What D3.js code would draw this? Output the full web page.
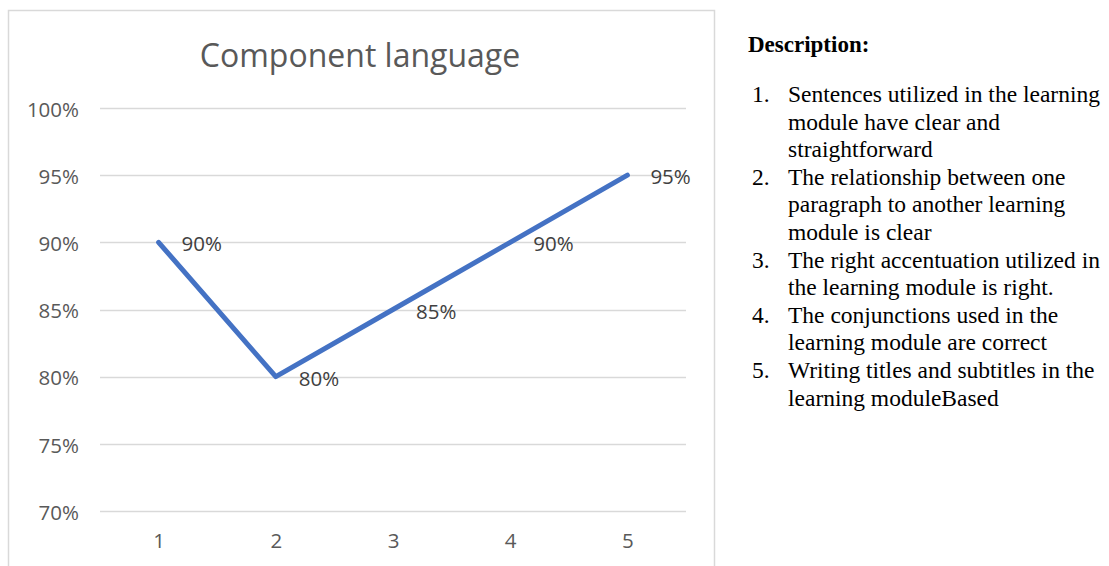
<!DOCTYPE html>
<html>
<head>
<meta charset="utf-8">
<script src="https://cdn.jsdelivr.net/npm/d3@7"></script>
<style>
    body { margin: 0; background: #fff; }
    svg { display: block; }
</style>
</head>
<body>
<div id="chart"></div>
<script>
const categories = ['1', '2', '3', '4', '5'];
const values = [0.90, 0.80, 0.85, 0.90, 0.95];
const yTicks = [0.70, 0.75, 0.80, 0.85, 0.90, 0.95, 1.00];
const chartTitle = 'Component language';
const descTitle = 'Description:';
const descItems = [
    ['Sentences utilized in the learning', 'module have clear and', 'straightforward'],
    ['The relationship between one', 'paragraph to another learning', 'module is clear'],
    ['The right accentuation utilized in', 'the learning module is right.'],
    ['The conjunctions used in the', 'learning module are correct'],
    ['Writing titles and subtitles in the', 'learning moduleBased']
];

document.addEventListener('DOMContentLoaded', function() {
    drawChart();
});

function drawChart() {
    const width = 1109;
    const height = 566;

    const svg = d3.select('#chart')
        .append('svg')
        .attr('width', width)
        .attr('height', height);

    // chart frame (cut off at bottom)
    svg.append('rect')
        .attr('x', 8.5)
        .attr('y', 10.5)
        .attr('width', 706)
        .attr('height', 600)
        .attr('fill', '#fff')
        .attr('stroke', '#d9d9d9')
        .attr('stroke-width', 1.5);

    const x = d3.scalePoint()
        .domain(categories)
        .range([100, 686])
        .padding(0.5);

    const y = d3.scaleLinear()
        .domain([0.70, 1.00])
        .range([511, 108]);

    const font = "'Open Sans', 'Noto Sans', sans-serif";

    svg.append('text')
        .attr('x', 360)
        .attr('y', 67)
        .attr('text-anchor', 'middle')
        .attr('font-family', font)
        .attr('font-size', 32)
        .attr('fill', '#595959')
        .text(chartTitle);

    // gridlines
    svg.append('g')
        .selectAll('line')
        .data(yTicks)
        .enter()
        .append('line')
        .attr('x1', 100)
        .attr('x2', 686)
        .attr('y1', d => Math.round(y(d)) + 0.5)
        .attr('y2', d => Math.round(y(d)) + 0.5)
        .attr('stroke', '#d9d9d9')
        .attr('stroke-width', 1.5);

    const yAxis = svg.append('g')
        .attr('transform', 'translate(100,0)')
        .call(d3.axisLeft(y).tickValues(yTicks).tickFormat(d3.format('.0%')).tickSize(0).tickPadding(21));
    yAxis.select('.domain').remove();
    yAxis.selectAll('text')
        .attr('font-family', font)
        .attr('font-size', 20.5)
        .attr('dy', '0.4em')
        .attr('fill', '#595959');

    const xAxis = svg.append('g')
        .attr('transform', 'translate(0,511)')
        .call(d3.axisBottom(x).tickSize(0).tickPadding(22));
    xAxis.select('.domain').remove();
    xAxis.selectAll('text')
        .attr('font-family', font)
        .attr('font-size', 20.5)
        .attr('fill', '#595959');

    const line = d3.line()
        .x((d, i) => x(categories[i]))
        .y(d => y(d));

    svg.append('path')
        .datum(values)
        .attr('d', line)
        .attr('fill', 'none')
        .attr('stroke', '#4472c4')
        .attr('stroke-width', 5)
        .attr('stroke-linejoin', 'round')
        .attr('stroke-linecap', 'round');

    svg.selectAll('text.dlabel')
        .data(values)
        .enter()
        .append('text')
        .attr('class', 'dlabel')
        .attr('x', (d, i) => x(categories[i]) + 23)
        .attr('y', d => y(d) + 9)
        .attr('font-family', font)
        .attr('font-size', 20.5)
        .attr('fill', '#404040')
        .text(d => d3.format('.0%')(d));

    // description block
    const serif = "'Liberation Serif', 'Times New Roman', serif";
    svg.append('text')
        .attr('x', 748)
        .attr('y', 52)
        .attr('font-family', serif)
        .attr('font-size', 23)
        .attr('font-weight', 'bold')
        .attr('fill', '#000')
        .text(descTitle);

    const lineH = 27.6;
    let yy = 102;
    descItems.forEach(function(lines, i) {
        svg.append('text')
            .attr('x', 752)
            .attr('y', yy)
            .attr('font-family', serif)
            .attr('font-size', 23.5)
            .text((i + 1) + '.');
        lines.forEach(function(t) {
            svg.append('text')
                .attr('x', 788)
                .attr('y', yy)
                .attr('font-family', serif)
                .attr('font-size', 23.5)
                .text(t);
            yy += lineH;
        });
    });
}
</script>
</body>
</html>
